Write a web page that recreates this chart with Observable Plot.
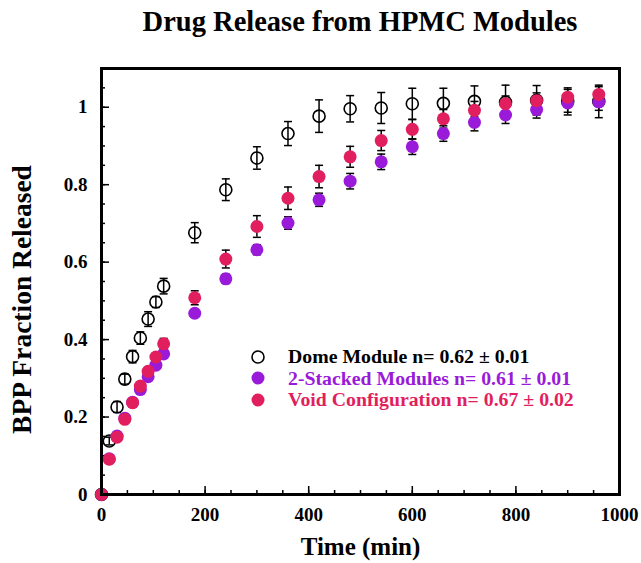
<!DOCTYPE html>
<html><head><meta charset="utf-8">
<script src="https://cdn.jsdelivr.net/npm/d3@7"></script>
<script src="https://cdn.jsdelivr.net/npm/@observablehq/plot@0.6"></script>
<style>
body{margin:0;background:#fff;font-family:"Liberation Serif","Times New Roman",serif;}
#wrap{position:relative;width:641px;height:563px;overflow:hidden;}
#title{position:absolute;left:60px;width:600px;top:6px;text-align:center;font-weight:bold;font-size:28.5px;line-height:32px;}
#legend{position:absolute;left:248px;top:346px;font-weight:bold;font-size:19.8px;}
.row{display:flex;align-items:center;height:21.5px;white-space:nowrap;}
.row svg{width:20px;height:20px;margin-right:20px;}
</style></head>
<body><div id="wrap"><div id="title">Drug Release from HPMC Modules</div><div id="chart"></div><div id="legend"></div></div>
<script>
const timeMin = [0,15,30,45,60,75,90,105,120,180,240,300,360,420,480,540,600,660,720,780,840,900,960];
const dome = [0,0.138,0.226,0.298,0.356,0.404,0.453,0.497,0.538,0.676,0.787,0.869,0.932,0.977,0.996,0.998,1.009,1.010,1.015,1.013,1.018,1.015,1.015];
const domeErr = [0,0.01,0.014,0.013,0.016,0.016,0.019,0.014,0.02,0.026,0.028,0.029,0.031,0.042,0.034,0.040,0.040,0.039,0.040,0.044,0.038,0.035,0.042];
const stacked = [0,0.092,0.151,0.197,0.238,0.271,0.304,0.334,0.363,0.468,0.557,0.632,0.701,0.761,0.809,0.859,0.898,0.932,0.961,0.980,0.994,1.011,1.014];
const stackedErr = [0,0.005,0.006,0.006,0.007,0.008,0.008,0.009,0.01,0.01,0.012,0.013,0.016,0.017,0.02,0.02,0.02,0.02,0.022,0.022,0.022,0.024,0.022];
const voidConfig = [0,0.091,0.148,0.194,0.237,0.280,0.318,0.355,0.389,0.508,0.608,0.692,0.765,0.821,0.872,0.914,0.943,0.970,0.992,1.009,1.017,1.026,1.033];
const voidErr = [0,0.005,0.006,0.007,0.008,0.009,0.01,0.011,0.014,0.018,0.023,0.028,0.029,0.029,0.027,0.026,0.025,0.024,0.023,0.02,0.02,0.02,0.02];

const seriesNames = ["Dome Module n= 0.62 \u00b1 0.01","2-Stacked Modules n= 0.61 \u00b1 0.01","Void Configuration n= 0.67 \u00b1 0.02"];
const seriesColors = ["#000000","#9a1ad9","#e21f5e"];

const xTickLabels = [0,200,400,600,800,1000];
const yTickLabels = [0,0.2,0.4,0.6,0.8,1];
const xMinor = d3.range(0,1001,50);
const yMinor = d3.range(0,1.1001,0.05).map(v=>+v.toFixed(2));

const W = 641, H = 563, mL = 101, mR = 22, mT = 68, mB = 69;
const fW = W - mL - mR, fH = H - mT - mB;

const rows = (vals, errs, s) => timeMin.map((t,i)=>({t, y: vals[i], e: errs[i], s}));
const dDome = rows(dome, domeErr, 0), dStack = rows(stacked, stackedErr, 1), dVoid = rows(voidConfig, voidErr, 2);
const all = [...dDome, ...dStack, ...dVoid].filter(d=>d.e>0);

const cap = {draw(ctx){ ctx.moveTo(-4,0); ctx.lineTo(4,0); }};

const plot = Plot.plot({
  width: W, height: H, marginLeft: mL, marginRight: mR, marginTop: mT, marginBottom: mB,
  style: {fontFamily: '"Liberation Serif","Times New Roman",serif', fontWeight: "bold", background: "transparent"},
  x: {domain: [0,1000]},
  y: {domain: [0,1.1]},
  marks: [
    Plot.tickX(xMinor, {x: d=>d, insetTop: fH-4, stroke: "black", strokeWidth: 1.5}),
    Plot.tickX(xTickLabels, {x: d=>d, insetTop: fH-8, stroke: "black", strokeWidth: 1.5}),
    Plot.tickY(yMinor, {y: d=>d, insetRight: fW-4, stroke: "black", strokeWidth: 1.5}),
    Plot.tickY(yTickLabels, {y: d=>d, insetRight: fW-8, stroke: "black", strokeWidth: 1.5}),
    Plot.axisX(xTickLabels, {tickSize: 0, tickPadding: 13, fontSize: 19, fontWeight: "bold", label: null, tickFormat: d=>String(d)}),
    Plot.axisY(yTickLabels, {tickSize: 0, tickPadding: 14, fontSize: 19, fontWeight: "bold", label: null, tickFormat: d=>String(d)}),
    Plot.text(["Time (min)"], {frameAnchor: "bottom", dy: 60, fontSize: 25, fontWeight: "bold", fill: "black"}),
    Plot.text(["BPP Fraction Released"], {frameAnchor: "left", textAnchor: "middle", dx: -79, dy: 18, rotate: -90, fontSize: 27.5, fontWeight: "bold", fill: "black"}),
    Plot.ruleX(all, {x: "t", y1: d=>d.y-d.e, y2: d=>d.y+d.e, stroke: "black", strokeWidth: 1.5}),
    Plot.dot(all, {x: "t", y: d=>d.y+d.e, symbol: cap, stroke: "black", strokeWidth: 1.5}),
    Plot.dot(all, {x: "t", y: d=>d.y-d.e, symbol: cap, stroke: "black", strokeWidth: 1.5}),
    Plot.dot(dDome, {x: "t", y: "y", r: 6, stroke: seriesColors[0], strokeWidth: 1.6, fill: "none"}),
    Plot.dot(dStack, {x: "t", y: "y", r: 6.5, fill: seriesColors[1], stroke: "none"}),
    Plot.dot(dVoid, {x: "t", y: "y", r: 6.5, fill: seriesColors[2], stroke: "none"}),
    Plot.frame({stroke: "black", strokeWidth: 3})
  ]
});
document.getElementById("chart").appendChild(plot);

const leg = document.getElementById("legend");
seriesNames.forEach((name,i)=>{
  const row = document.createElement("div");
  row.className = "row";
  row.style.color = seriesColors[i];
  const open = i===0;
  row.innerHTML = `<svg viewBox="-10 -10 20 20"><circle r="${open?6:6.5}" fill="${open?'none':seriesColors[i]}" stroke="${open?'black':'none'}" stroke-width="1.6"/></svg><span>${name}</span>`;
  leg.appendChild(row);
});
</script></body></html>
